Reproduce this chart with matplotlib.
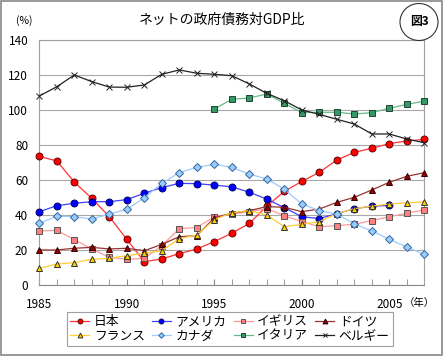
import numpy as np
import matplotlib
matplotlib.use("Agg")
import matplotlib.pyplot as plt
from matplotlib.patches import Ellipse, Rectangle

plt.rcParams['font.family'] = ['Noto Sans CJK JP', 'DejaVu Sans']

nan = np.nan
years = list(range(1985, 2008))
japan = [73.5, 70.9, 58.8, 49.5, 39, 26.1, 13.3, 14.9, 17.9, 20.6, 24.8, 29.6, 35.2, 45,
         53.5, 59.2, 64.4, 71.4, 75.8, 78.1, 80.8, 82.3, 83.2]
usa = [41.9, 45.3, 46.7, 47.6, 47.6, 48.8, 52.4, 55.7, 58.1, 57.9, 57.1, 56.1, 53, 49.1,
       44.2, 39, 38, 40.7, 43.6, 45, 45.5, nan, nan]
uk = [30.9, 31.2, 25.9, 20.6, 15.8, 14.7, 15.2, 22.5, 32.2, 32.8, 39, 40.6, 41.9, 43.6,
      39.6, 36.2, 33.3, 33.9, 34.7, 36.8, 39, 41, 42.9]
germany = [20, 20, 21, 21.5, 20.6, 21, 19.6, 23.2, 27.6, 28.2, 38.4, 41, 42.5, 44.8,
           44.4, 41.9, 43.4, 47.2, 50.1, 54.3, 58.7, 62.1, 64.2]
france = [9.5, 12, 12.8, 14.7, 15.2, 16.8, 18.1, 19.6, 26.5, 28.6, 37.3, 41.3, 42.5, 40,
          33.3, 34.7, 36.2, 40.8, 43.6, 45.1, 46.2, 47, 47.5]
canada = [35.2, 39.4, 39, 37.7, 40.6, 43.2, 49.9, 58.1, 64.2, 67.2, 69, 67.2, 63.4, 60.6,
          54.7, 46.3, 42.5, 40.6, 34.9, 30.9, 26.1, 21.7, 17.5]
italy = [nan] * 10 + [100.6, 106.1, 106.9, 109.1, 103.8, 98.5, 98.7, 98.7, 97.7, 98.5,
                      101, 103.2, 105.1]
belgium = [108, 113.3, 120, 116.2, 113.1, 113, 114.3, 120.4, 122.9, 121, 120.4, 119.6,
           114.9, 109.5, 105.3, 100, 97.5, 94.7, 92, 86.3, 86.3, 83.4, 81.3]

series = [
    ("日本", japan, "#FF3333", "#FF0000", "o", "#660000"),
    ("アメリカ", usa, "#4040FF", "#0000FF", "o", "#000066"),
    ("イギリス", uk, "#FF9999", "#FF8080", "s", "#555555"),
    ("ドイツ", germany, "#993333", "#990000", "^", "#330000"),
    ("フランス", france, "#FFCC33", "#FFCC00", "^", "#333333"),
    ("カナダ", canada, "#99CCFF", "#99CCFF", "D", "#336699"),
    ("イタリア", italy, "#66BB88", "#339966", "s", "#224433"),
    ("ベルギー", belgium, "#222222", "#222222", "x", "#222222"),
]

W, H = 443, 356
fig = plt.figure(figsize=(W / 100, H / 100), dpi=100)
ax = fig.add_axes([39.3 / W, 1 - 285 / H, 385 / W, 245 / H])

handles = {}
for i, (name, vals, lc, mfc, mk, mec) in enumerate(series):
    ms = 5 if mk != "D" else 4
    if mk == "x":
        ms = 4
    (h,) = ax.plot(years, vals, color=lc, lw=0.9, marker=mk, markersize=ms,
                   markerfacecolor=mfc, markeredgecolor=mec, markeredgewidth=0.7,
                   zorder=3 + i, label=name, clip_on=False)
    handles[name] = h

ax.set_xlim(1985, 2007)
ax.set_ylim(0, 140)
ax.set_yticks(range(0, 141, 20))
ax.set_xticks(range(1985, 2008, 5))
ax.set_xticks(years, minor=True)
ax.grid(axis="y", color="#A8A8A8", lw=0.8)
ax.set_axisbelow(True)
for s in ax.spines.values():
    s.set_color("#A0A0A0")
    s.set_linewidth(0.8)
ax.spines["bottom"].set_color("#888888")
ax.tick_params(axis="x", which="both", direction="in", length=4, color="#888888",
               labelsize=8.5, pad=9)
ax.tick_params(axis="y", length=0, labelsize=8.5, pad=8)

fig.text(222 / W, 1 - 20 / H, "ネットの政府債務対GDP比", ha="center", va="center", fontsize=10)
fig.text(24 / W, 1 - 21 / H, "(%)", ha="center", va="center", fontsize=7.5)
fig.text(419 / W, 1 - 303 / H, "（年）", ha="center", va="center", fontsize=7.5)

# circled label
el = Ellipse((419 / W, 1 - 22 / H), 38 / W, 37 / H, transform=fig.transFigure,
             fill=False, edgecolor="#333333", lw=0.8)
fig.patches.append(el)
fig.text(419 / W, 1 - 22 / H, "図3", ha="center", va="center", fontsize=8.5,
         fontweight="bold")

# figure border
fig.patches.append(Rectangle((0.002, 0.004), 0.995, 0.993, transform=fig.transFigure,
                             fill=False, edgecolor="#888888", lw=1.2))

order = ["日本", "フランス", "アメリカ", "カナダ", "イギリス", "イタリア", "ドイツ", "ベルギー"]
leg = fig.legend([handles[n] for n in order], order, ncol=4, loc="center",
                 bbox_to_anchor=(230 / W, 1 - 329 / H), fontsize=9.2,
                 frameon=True, fancybox=False, edgecolor="#888888",
                 handlelength=1.5, handletextpad=0.35, columnspacing=0.55,
                 labelspacing=0.12, borderpad=0.25, borderaxespad=0, markerscale=0.7)
leg.get_frame().set_linewidth(0.8)

fig.savefig("out.png", dpi=100)
